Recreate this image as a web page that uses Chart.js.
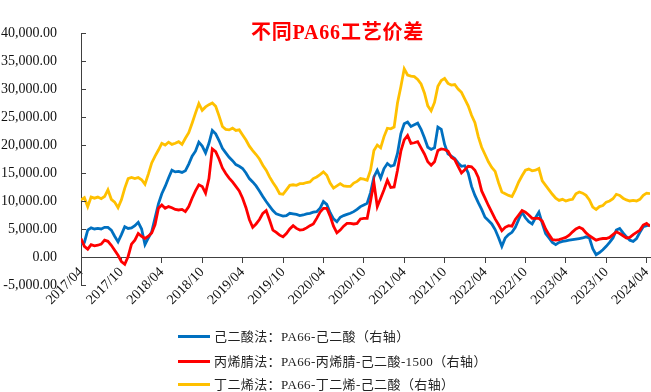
<!DOCTYPE html>
<html>
<head>
<meta charset="utf-8">
<script src="https://cdn.jsdelivr.net/npm/chart.js@4/dist/chart.umd.min.js"></script>
<style>
  html, body { margin: 0; padding: 0; background: #fff; }
  #wrap { position: relative; width: 651px; height: 392px; overflow: hidden; }
  #c { position: absolute; left: 0; top: 0; }
  #title {
    position: absolute; left: 0; width: 675px; top: 16px; text-align: center;
    font: bold 20px "Liberation Serif", "Noto Sans CJK SC", serif;
    color: #ff0000; letter-spacing: 0.8px;
  }
  #legend { position: absolute; left: 178px; top: 0; }
  .item { position: absolute; left: 0; white-space: nowrap; height: 20px; }
  .item .swatch { position: absolute; left: 0; top: 9px; width: 32px; height: 3px; }
  .item .text {
    position: absolute; left: 36px; top: 1px; line-height: 19px;
    font-family: "Liberation Serif", "Noto Sans CJK SC", serif; font-size: 13px;
    color: #222; letter-spacing: 0.4px;
  }
</style>
</head>
<body>
<div id="wrap">
  <canvas id="c" width="651" height="392"></canvas>
  <div id="title">不同PA66工艺价差</div>
  <div id="legend"></div>
</div>
<script>
// Semi-monthly observations, starting 2017/04/01
const startYear = 2017;
const startMonth = 4;
const pointCount = 170;
const dates = Array.from({ length: pointCount }, (_, k) => {
  const mi = startMonth - 1 + Math.floor(k / 2);
  const y = startYear + Math.floor(mi / 12);
  const m = (mi % 12) + 1;
  return y + '/' + String(m).padStart(2, '0') + '/' + (k % 2 === 0 ? '01' : '16');
});

// Axis tick labels (every six months)
const tickLabels = ['2017/04','2017/10','2018/04','2018/10','2019/04','2019/10','2020/04',
  '2020/10','2021/04','2021/10','2022/04','2022/10','2023/04','2023/10','2024/04'];

// 己二酸法：PA66-己二酸
const adipicSpread = [
  2300,2600,4800,5200,5000,5100,5000,5300,5300,4800,
  3700,2700,4000,5400,5100,5200,5600,6200,5000,2200,
  3400,4500,7000,9500,11300,12600,14100,15500,15200,15300,
  15100,15400,16600,18000,18900,20500,19800,18600,20300,22600,
  22000,20800,19400,18600,17800,17200,16500,16200,15800,15000,
  14000,13400,12700,11800,10800,9900,9100,8300,7700,7500,
  7300,7400,7800,7700,7600,7400,7500,7700,7800,8000,
  8100,8700,9900,9400,7900,6800,6300,7100,7400,7600,
  7800,8100,8500,9000,9300,9600,11500,14300,15500,14100,
  15800,16700,16200,16400,18500,22000,23800,24100,23300,23600,
  23900,22800,21300,19600,19200,19500,23200,22800,20100,18400,
  18000,17600,16800,16200,16300,15000,12600,11000,9700,8500,
  7100,6500,5900,4900,3500,1900,3400,4000,4400,5300,
  6700,8000,7000,6300,5900,7000,8000,6000,4200,3400,
  2600,2200,2600,2800,2900,3000,3100,3200,3300,3400,
  3600,3400,1500,400,800,1300,1900,2600,3400,4800,
  5100,4300,3600,3000,2800,3300,4400,5400,5600,5700
];

// 丙烯腈法：PA66-丙烯腈-己二酸-1500
const acrylonitrileSpread = [
  3300,1900,1400,2200,2000,2100,2300,3000,2800,2100,
  1200,300,-800,-1300,100,2300,3000,4200,3700,3300,
  3700,4300,5800,8700,9300,8700,9000,8800,8500,8400,
  8500,8100,9000,10500,11800,12900,12600,11400,14000,19300,
  18800,17500,15900,14900,14100,13400,12600,11800,10500,8800,
  6700,5300,5900,6700,7800,8300,6600,4800,4400,3900,
  3600,4200,5000,5600,5100,4800,4900,5200,5600,5900,
  6900,8000,8700,8700,7300,5500,4300,4800,5500,6000,
  6000,5900,6000,6800,6900,6900,10000,13300,9000,10500,
  12000,13700,12400,12500,15500,18900,20900,21700,20300,20400,
  20600,19500,18400,17000,16400,17000,19000,19300,19200,18900,
  17800,17400,16200,15000,15600,16200,16100,15500,14200,11800,
  10500,9200,8000,6800,5800,4700,5300,5600,5500,6700,
  7500,8300,8000,7500,6900,6900,6900,6400,5000,4000,
  3100,3000,3100,3300,3500,3900,4500,5000,5300,5000,
  4300,3800,3400,3000,3200,3300,3300,3500,4000,4500,
  4200,3800,3400,3500,4000,4400,4800,5700,6000,5500
];

// 丁二烯法：PA66-丁二烯-己二酸
const butadieneSpread = [
  10200,10600,9000,10700,10500,10700,10400,10800,12000,10300,
  9800,8800,10200,12300,14000,14200,14000,14200,13800,13000,
  14800,16800,18000,19100,20300,20000,20500,20100,20300,20600,
  20100,21200,22200,23900,25700,27400,26200,26800,27200,27500,
  26900,25200,23300,22800,22700,23000,22600,22700,21800,20900,
  19800,19000,18300,17500,16400,15500,14300,13300,12400,11300,
  11200,12000,12800,12900,12800,13100,13100,13300,13400,14000,
  14300,14700,15200,14600,13200,12300,12700,13100,12700,12600,
  12600,13200,13500,14000,13900,13700,15500,19000,20000,19500,
  21500,23000,22900,23200,27500,30400,33600,32500,32300,32200,
  31700,30900,29300,27000,26100,27600,30500,31500,31900,31000,
  30700,30800,30000,29400,28200,27000,25300,24000,21500,19600,
  18300,17000,16000,15300,13300,11600,11300,11000,10800,12000,
  13400,14500,15500,15700,15400,15500,15800,13600,12800,12000,
  11200,10500,10100,10300,10000,10200,10300,11300,11600,11400,
  11000,10200,8900,8500,9000,9200,9800,10000,10400,11200,
  11000,10500,10200,10000,10100,10000,10300,11000,11400,11300
];

const seriesNames = [
  '己二酸法：PA66-己二酸（右轴）',
  '丙烯腈法：PA66-丙烯腈-己二酸-1500（右轴）',
  '丁二烯法：PA66-丁二烯-己二酸（右轴）'
];
const seriesColors = ['#0070C0', '#FF0000', '#FFC000'];

// months elapsed since the first date
function monthOffset(d) {
  const [y, m, day] = d.split('/').map(Number);
  return (y - startYear) * 12 + (m - startMonth) + (day === 16 ? 0.5 : 0);
}
const xs = dates.map(monthOffset);
const tickValues = tickLabels.map(s => monthOffset(s + '/01'));
const toPoints = arr => arr.map((v, i) => ({ x: xs[i], y: v }));

const serif = 'Liberation Serif';
const axisColor = '#404040';

// short inward tick marks on the value axis
const innerTicks = {
  id: 'innerTicks',
  afterDraw(chart) {
    const ys = chart.scales.y;
    const left = chart.chartArea.left;
    const ctx = chart.ctx;
    ctx.save();
    ctx.strokeStyle = axisColor;
    ctx.lineWidth = 1;
    ys.ticks.forEach(t => {
      const py = Math.round(ys.getPixelForValue(t.value)) + 0.5;
      ctx.beginPath();
      ctx.moveTo(left, py);
      ctx.lineTo(left + 5, py);
      ctx.stroke();
    });
    ctx.restore();
  }
};

const series = [adipicSpread, acrylonitrileSpread, butadieneSpread];

const chart = new Chart(document.getElementById('c'), {
  type: 'line',
  data: {
    datasets: series.map((arr, i) => ({
      label: seriesNames[i],
      data: toPoints(arr),
      borderColor: seriesColors[i],
      backgroundColor: seriesColors[i],
      borderWidth: 2.8,
      pointRadius: 0,
      tension: 0,
      order: 3 - i
    }))
  },
  options: {
    responsive: false,
    animation: false,
    devicePixelRatio: 1,
    layout: { padding: { top: 33, left: 0, right: 1, bottom: 107 } },
    plugins: { legend: { display: false }, tooltip: { enabled: false } },
    scales: {
      x: {
        type: 'linear',
        position: { y: 0 },
        min: 0,
        max: xs[xs.length - 1],
        afterBuildTicks(scale) { scale.ticks = tickValues.map(v => ({ value: v })); },
        afterFit(scale) { scale.paddingLeft = 0; scale.paddingRight = 0; },
        ticks: {
          autoSkip: false,
          minRotation: 45,
          maxRotation: 45,
          padding: 2,
          color: '#111',
          font: { family: serif, size: 14 },
          callback(v) { const i = tickValues.indexOf(v); return i >= 0 ? tickLabels[i] : ''; }
        },
        grid: { display: true, drawOnChartArea: false, drawTicks: true, tickLength: 5, color: axisColor },
        border: { display: true, color: axisColor, width: 1 }
      },
      y: {
        min: -5000,
        max: 40000,
        afterFit(scale) { scale.width = 81; },
        ticks: {
          stepSize: 5000,
          padding: 16,
          color: '#111',
          font: { family: serif, size: 14 },
          callback(v) { return v.toLocaleString('en-US', { minimumFractionDigits: 2, maximumFractionDigits: 2 }); }
        },
        grid: { display: false },
        border: { display: true, color: axisColor, width: 1 }
      }
    }
  },
  plugins: [innerTicks]
});

// legend list under the plot, built from the chart's datasets
const legend = document.getElementById('legend');
const rowTops = [326, 351, 374];
chart.data.datasets.forEach((ds, i) => {
  const row = document.createElement('div');
  row.className = 'item';
  row.style.top = rowTops[i] + 'px';
  const sw = document.createElement('span');
  sw.className = 'swatch';
  sw.style.background = ds.borderColor;
  const tx = document.createElement('span');
  tx.className = 'text';
  tx.textContent = ds.label;
  row.appendChild(sw);
  row.appendChild(tx);
  legend.appendChild(row);
});
</script>
</body>
</html>
